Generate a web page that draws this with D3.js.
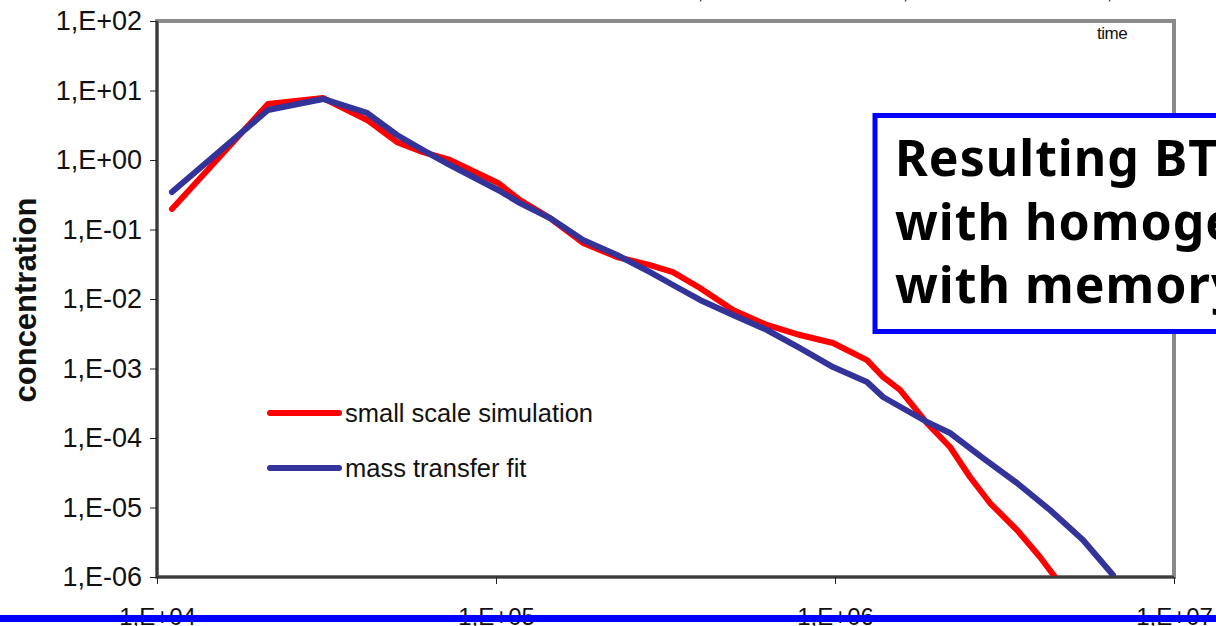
<!DOCTYPE html>
<html>
<head>
<meta charset="utf-8">
<script src="https://cdn.jsdelivr.net/npm/d3@7/dist/d3.min.js"></script>
<style>
  html, body { margin: 0; padding: 0; background: #fff; }
  svg { display: block; }
</style>
</head>
<body>
<svg id="chart" width="1216" height="626"></svg>
<script>
// small scale simulation (red)
const simTime = [11070, 21250, 30880, 41650, 51050, 60910, 73150, 86700, 101400, 117700,
  144300, 180600, 227500, 284700, 332700, 399800, 500200, 630000, 788300, 986500,
  1243000, 1386000, 1555000, 1868000, 2184000, 2502000, 2865000, 3443000, 4024000, 4457000];
const simConc = [0.197, 6.39, 7.80, 3.77, 1.81, 1.30, 1.0, 0.671, 0.467, 0.265,
  0.146, 0.064, 0.0402, 0.0308, 0.0244, 0.0144, 0.00695, 0.00423, 0.00303, 0.00233,
  0.00132, 0.000755, 0.000491, 0.000164, 7.43e-5, 2.75e-5, 1.16e-5, 4.74e-6, 1.94e-6, 1.0e-6];

// mass transfer fit (blue)
const fitTime = [11070, 21250, 30880, 41650, 51050, 60910, 73150, 86700, 101400, 117700,
  144300, 180600, 227500, 284700, 332700, 399800, 500200, 630000, 788300, 986500,
  1243000, 1386000, 1868000, 2184000, 2733000, 3443000, 4308000, 5390000, 6607000];
const fitConc = [0.347, 5.24, 7.55, 4.75, 2.29, 1.39, 0.847, 0.551, 0.370, 0.240,
  0.146, 0.0706, 0.0430, 0.0244, 0.0159, 0.00968, 0.00589, 0.00358, 0.00197, 0.00105,
  0.00064, 0.000389, 0.000170, 0.000118, 5.15e-5, 2.25e-5, 9.2e-6, 3.4e-6, 1.07e-6];

const xTicks = [1e4, 1e5, 1e6, 1e7];
const xTickLabels = ["1,E+04", "1,E+05", "1,E+06", "1,E+07"];
const yTicks = [1e-6, 1e-5, 1e-4, 1e-3, 1e-2, 1e-1, 1e0, 1e1, 1e2];
const yTickLabels = ["1,E-06", "1,E-05", "1,E-04", "1,E-03", "1,E-02", "1,E-01", "1,E+00", "1,E+01", "1,E+02"];

const seriesNames = ["small scale simulation", "mass transfer fit"];
const seriesColors = ["#ff0000", "#333399"];
const boxLines = ["Resulting BTC", "with homogeneous", "with memory"];

const svg = d3.select("#chart");
const plotL = 157, plotR = 1174, plotT = 21, plotB = 577;
const font = "Arial, 'Liberation Sans', sans-serif";

const x = d3.scaleLog().domain([1e4, 1e7]).range([plotL, plotR]);
const y = d3.scaleLog().domain([1e-6, 1e2]).range([plotB, plotT]);

// plot frame
svg.append("rect")
  .attr("x", plotL).attr("y", plotT)
  .attr("width", plotR - plotL).attr("height", plotB - plotT)
  .attr("fill", "#fff")
  .attr("stroke", "#8a8a8a")
  .attr("stroke-width", 4);

svg.append("defs").append("clipPath").attr("id", "plot")
  .append("rect")
  .attr("x", plotL).attr("y", plotT)
  .attr("width", plotR - plotL).attr("height", plotB - plotT);

const line = d3.line()
  .x(d => x(d[0]))
  .y(d => y(d[1]));

const series = [
  d3.zip(simTime, simConc),
  d3.zip(fitTime, fitConc)
];

svg.append("g").attr("clip-path", "url(#plot)")
  .selectAll("path")
  .data(series)
  .join("path")
  .attr("d", line)
  .attr("fill", "none")
  .attr("stroke", (d, i) => seriesColors[i])
  .attr("stroke-width", 6)
  .attr("stroke-linejoin", "round")
  .attr("stroke-linecap", "round");

// axes
const yAxis = svg.append("g")
  .attr("transform", `translate(${plotL},0)`)
  .call(d3.axisLeft(y).tickValues(yTicks)
    .tickFormat((d, i) => yTickLabels[i])
    .tickSize(7).tickPadding(8));

const xAxis = svg.append("g")
  .attr("transform", `translate(0,${plotB})`)
  .call(d3.axisBottom(x).tickValues(xTicks)
    .tickFormat((d, i) => xTickLabels[i])
    .tickSize(7).tickPadding(24));

[yAxis, xAxis].forEach(g => {
  g.select(".domain").attr("stroke", "#3a3a3a").attr("stroke-width", 2.5);
  g.selectAll(".tick line").attr("stroke", "#222");
  g.selectAll(".tick text")
    .attr("fill", "#111")
    .style("font-family", font)
    .style("font-size", "24px");
});
yAxis.selectAll(".tick text").style("font-size", "27px");
yAxis.select(".domain").attr("d", `M0,${plotT}V${plotB}`);
xAxis.select(".domain").attr("d", `M${plotL},0H${plotR}`);

// y axis title
svg.append("text")
  .attr("transform", "translate(36,300) rotate(-90)")
  .attr("text-anchor", "middle")
  .style("font-family", font)
  .style("font-size", "31px")
  .style("font-weight", "bold")
  .attr("fill", "#111")
  .text("concentration");

// legend
const legend = svg.append("g")
  .selectAll("g")
  .data(seriesNames)
  .join("g")
  .attr("transform", (d, i) => `translate(270,${413 + i * 55})`);

legend.append("line")
  .attr("x1", 0).attr("x2", 69)
  .attr("stroke", (d, i) => seriesColors[i])
  .attr("stroke-width", 6)
  .attr("stroke-linecap", "round");

legend.append("text")
  .attr("x", 75).attr("y", 9)
  .style("font-family", font)
  .style("font-size", "25.5px")
  .attr("fill", "#111")
  .text(d => d);

// x axis title
svg.append("text")
  .attr("x", 1097).attr("y", 39)
  .style("font-family", font)
  .style("font-size", "17px")
  .attr("letter-spacing", "-0.5")
  .attr("fill", "#111")
  .text("time");

// fragments of a title line above the picture
svg.append("g")
  .selectAll("text")
  .data([698, 903, 1107])
  .join("text")
  .attr("x", d => d).attr("y", -1)
  .style("font-family", font)
  .style("font-size", "18px")
  .attr("fill", "#111")
  .text(",");

// annotation box
svg.append("rect")
  .attr("x", 875).attr("y", 115.5)
  .attr("width", 420).attr("height", 216)
  .attr("fill", "#fff")
  .attr("stroke", "#0000ff")
  .attr("stroke-width", 5);

svg.append("g")
  .selectAll("text")
  .data(boxLines)
  .join("text")
  .attr("x", 895)
  .attr("y", (d, i) => 176 + i * 63.5)
  .style("font-family", "'Comic Sans MS', 'Noto Sans', sans-serif")
  .style("font-size", "50px")
  .style("font-weight", "bold")
  .attr("letter-spacing", "1")
  .attr("fill", "#000")
  .text(d => d);

// slide rule under the chart
svg.append("line")
  .attr("x1", 0).attr("x2", 1216)
  .attr("y1", 618.5).attr("y2", 618.5)
  .attr("stroke", "#0000ff")
  .attr("stroke-width", 7);
</script>
</body>
</html>
